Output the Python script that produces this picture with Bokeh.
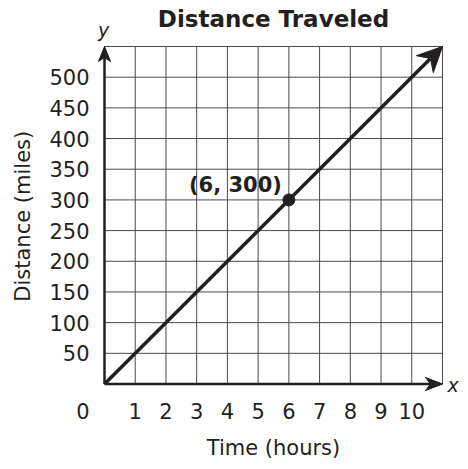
import math
from bokeh.plotting import figure
from bokeh.models import Range1d
from bokeh.core.properties import value
from bokeh.embed import file_html
from bokeh.resources import INLINE

# data
x_ticks = [1, 2, 3, 4, 5, 6, 7, 8, 9, 10]
y_ticks = [50, 100, 150, 200, 250, 300, 350, 400, 450, 500]
grid_x = list(range(0, 12))
grid_y = list(range(0, 600, 50))
line_x = [0, 11]
line_y = [0, 550]
point_x = [6]
point_y = [300]
point_label = ["(6, 300)"]
x_max = 11
y_max = 550

W, H = 468, 469
X0_PX, Y0_PX = 104.0, 383.5      # pixel of data origin
SX = 338.0 / 11                  # px per x unit
SY = 337.5 / 550                 # px per y unit

FONT = "DejaVu Sans"
INK = "#231f20"

p = figure(width=W, height=H, output_backend="svg", toolbar_location=None,
           x_axis_location=None, y_axis_location=None,
           x_range=Range1d(-X0_PX / SX, (W - X0_PX) / SX),
           y_range=Range1d(-(H - Y0_PX) / SY, Y0_PX / SY),
           min_border=0, min_border_left=0, min_border_right=0,
           min_border_top=0, min_border_bottom=0)
p.outline_line_color = None
p.xgrid.visible = False
p.ygrid.visible = False
p.background_fill_color = "white"
p.border_fill_color = "white"

# grid
p.segment(x0=grid_x, y0=[0] * len(grid_x), x1=grid_x, y1=[y_max] * len(grid_x),
          line_color="#4a4a4a", line_width=1)
p.segment(x0=[0] * len(grid_y), y0=grid_y, x1=[x_max] * len(grid_y), y1=grid_y,
          line_color="#4a4a4a", line_width=1)


def arrow(xs, ys, xe, ye, lw, L, Wd, notch):
    # direction in screen-up pixel space
    dx = (xe - xs) * SX
    dy = (ye - ys) * SY
    n = math.hypot(dx, dy)
    ux, uy = dx / n, dy / n
    px_, py_ = -uy, ux
    def pt(a, b):
        return xe + (a * ux + b * px_) / SX, ye + (a * uy + b * py_) / SY
    tip = pt(0, 0)
    l = pt(-L, Wd)
    r = pt(-L, -Wd)
    nt = pt(-notch, 0)
    p.line([xs, nt[0]], [ys, nt[1]], line_width=lw, line_color=INK)
    p.patch([tip[0], l[0], nt[0], r[0]], [tip[1], l[1], nt[1], r[1]],
            fill_color=INK, line_color=INK, line_width=1)


# axes with arrows
arrow(0, 0, 0, y_max, 2.5, 15, 6, 11)
arrow(0, 0, x_max, 0, 2.5, 17, 6.5, 12)
# main line
arrow(line_x[0], line_y[0], line_x[1], line_y[1], 3.5, 25, 12, 17)

# point
p.scatter(point_x, point_y, size=12, color=INK)
p.text(point_x, point_y, text=point_label, text_font=value(FONT), text_font_style="bold",
       text_font_size="21px", text_color=INK, text_align="right", text_baseline="middle",
       x_offset=-7, y_offset=-15)

# tick labels
p.text([0] * len(y_ticks), y_ticks, text=[str(v) for v in y_ticks], text_font=value(FONT),
       text_font_size="21px", text_color=INK, text_align="right", text_baseline="middle",
       x_offset=-15)
p.text(x_ticks, [0] * len(x_ticks), text=[str(v) for v in x_ticks], text_font=value(FONT),
       text_font_size="21px", text_color=INK, text_align="center", text_baseline="middle",
       y_offset=27)
p.text([0], [0], text=["0"], text_font=value(FONT), text_font_size="21px", text_color=INK,
       text_align="right", text_baseline="middle", x_offset=-15, y_offset=27)

# axis titles and chart title
p.text([x_max / 2], [0], text=["Time (hours)"], text_font=value(FONT), text_font_size="21px",
       text_color=INK, text_align="center", text_baseline="middle", y_offset=64)
p.text([0], [y_max / 2], text=["Distance (miles)"], text_font=value(FONT), text_font_size="21px",
       text_color=INK, text_align="center", text_baseline="middle", angle=math.pi / 2,
       x_offset=-82, y_offset=1)
p.text([x_max / 2], [y_max], text=["Distance Traveled"], text_font=value(FONT),
       text_font_size="23px", text_font_style="bold", text_color=INK, text_align="center",
       text_baseline="middle", y_offset=-28)

# axis letters
p.text([0], [y_max], text=["y"], text_font=value(FONT), text_font_style="italic",
       text_font_size="19px", text_color=INK, text_align="center", text_baseline="middle",
       y_offset=-17, x_offset=-1)
p.text([x_max], [0], text=["x"], text_font=value(FONT), text_font_style="italic",
       text_font_size="19px", text_color=INK, text_align="left", text_baseline="middle",
       x_offset=5, y_offset=1)

open("out.html", "w").write(file_html(p, INLINE))
